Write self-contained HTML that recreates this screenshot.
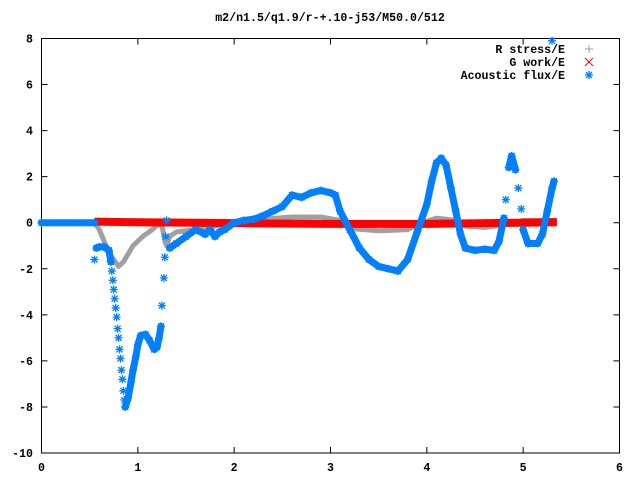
<!DOCTYPE html>
<html><head><meta charset="utf-8"><style>
body{margin:0;background:#fff}
svg text{font-family:"Liberation Mono",monospace;font-weight:bold;font-size:11.6px}
</style></head><body>
<svg id="chart" width="640" height="480" xmlns="http://www.w3.org/2000/svg">
<rect width="640" height="480" fill="#fff"/>
<text x="330" y="21" text-anchor="middle">m2/n1.5/q1.9/r-+.10-j53/M50.0/512</text>
<g id="axes"></g>
<g id="series"></g>
<g id="legend"></g>
</svg>
<script>
const xTicks=[0,1,2,3,4,5,6];
const yTicks=[8,6,4,2,0,-2,-4,-6,-8,-10];
const stressX=[0,0.55,0.6,0.7,0.8,0.85,0.95,1.05,1.15,1.2,1.25,1.28,1.3,1.33,1.4,1.6,1.8,2.0,2.3,2.6,2.9,3.1,3.2,3.5,3.8,3.95,4.1,4.3,4.4,4.6,4.8,5.0,5.3,5.35];
const stressY=[0,0,-0.3,-1.3,-1.9,-1.7,-1.0,-0.6,-0.3,-0.1,-0.1,-0.8,-1.0,-0.6,-0.4,-0.3,-0.15,0,0.15,0.25,0.25,0.1,-0.25,-0.35,-0.3,0,0.2,0.1,-0.15,-0.2,-0.1,0.1,0.1,0.1];
const workX=[0.55,1.0,2.0,3.0,4.0,5.0,5.35];
const workY=[0.05,0.02,-0.02,-0.05,-0.05,0,0.02];
const fluxX=[0,0.55,0.57,0.6,0.65,0.7,0.72,0.73,0.74,0.75,0.76,0.77,0.78,0.79,0.8,0.81,0.82,0.83,0.84,0.85,0.86,0.87,0.9,0.93,0.95,0.98,1.0,1.03,1.08,1.12,1.17,1.2,1.22,1.24,1.25,1.27,1.28,1.29,1.3,1.33,1.4,1.5,1.6,1.7,1.75,1.8,1.85,1.9,2.0,2.1,2.2,2.3,2.4,2.5,2.6,2.7,2.8,2.9,3.0,3.05,3.1,3.2,3.3,3.4,3.5,3.6,3.7,3.8,3.9,4.0,4.05,4.1,4.15,4.2,4.25,4.3,4.35,4.4,4.5,4.6,4.7,4.75,4.8,4.82,4.85,4.88,4.92,4.95,4.98,5.0,5.05,5.15,5.2,5.25,5.3,5.32];
const fluxY=[0,0,-1.1,-1.05,-1.05,-1.2,-1.7,-2.1,-2.5,-2.9,-3.3,-3.7,-4.1,-4.6,-5.0,-5.5,-5.9,-6.4,-6.8,-7.3,-7.7,-8.0,-7.6,-6.9,-6.4,-5.8,-5.3,-4.9,-4.85,-5.1,-5.5,-5.4,-5.0,-4.5,-3.6,-2.4,-1.5,-0.6,0.1,-1.1,-0.9,-0.6,-0.3,-0.5,-0.3,-0.6,-0.4,-0.3,0.0,0.1,0.15,0.3,0.5,0.7,1.2,1.1,1.3,1.4,1.3,1.2,0.5,-0.3,-1.1,-1.6,-1.9,-2.0,-2.1,-1.6,-0.4,0.8,1.8,2.6,2.8,2.5,1.5,0.5,-0.5,-1.1,-1.2,-1.15,-1.2,-0.8,0.2,1.0,2.4,2.9,2.3,1.5,0.6,-0.3,-0.9,-0.9,-0.5,0.5,1.5,1.8];
const fluxOutlierX=[0.55,5.3];
const fluxOutlierY=[-1.6,7.9];
const L=41.5,R=619.5,T=38.5,B=453;
const sx=v=>L+(v-0)/(6-0)*(R-L);
const sy=v=>B-(v-(-10))/(8-(-10))*(B-T);
const NS="http://www.w3.org/2000/svg";
function mk(tag,attrs,parent){const e=document.createElementNS(NS,tag);for(const k in attrs)e.setAttribute(k,attrs[k]);parent.appendChild(e);return e;}
const axes=document.getElementById('axes');
const fr=mk('rect',{x:L,y:T,width:R-L,height:B-T,fill:'none',stroke:'#000','stroke-width':1},axes);


xTicks.forEach(t=>{
 const x=sx(t);
 const a=mk('path',{d:`M${x},${B}v-6M${x},${T}v6`,stroke:'#000'},axes);
 
 
 const tx=mk('text',{x:x,y:471,'text-anchor':'middle'},axes);tx.textContent=t;
 
 
});
yTicks.forEach(t=>{
 const y=sy(t);
 const a=mk('path',{d:`M${L},${y}h6M${R},${y}h-6`,stroke:'#000'},axes);
 
 
 const tx=mk('text',{x:33,y:y+4,'text-anchor':'end'},axes);tx.textContent=t;
 
 
});
const ser=document.getElementById('series');
function line(xs,ys,color,w,name,cap){
 const p=mk('polyline',{points:xs.map((x,i)=>sx(x)+','+sy(ys[i])).join(' '),fill:'none',stroke:color,'stroke-width':w,'stroke-linejoin':'round','stroke-linecap':cap},ser);
 
 
}
function star(x,y,c,parent){
 return mk('path',{d:`M${x-4},${y}h8M${x},${y-4}v8M${x-3},${y-3}l6,6M${x-3},${y+3}l6,-6`,stroke:c,'stroke-width':1.3},parent);
}
line(stressX,stressY,'#a0a0a0',5,'r-stress-series','butt');
line(workX,workY,'#ff0000',8,'g-work-series','butt');
// blue: connect only dense (shallow) segments; steep sparse segments show isolated stars
let d='';
for(let i=1;i<fluxX.length;i++){
 const x0=sx(fluxX[i-1]),y0=sy(fluxY[i-1]),x1=sx(fluxX[i]),y1=sy(fluxY[i]);
 if(Math.abs(y1-y0)<=5*Math.abs(x1-x0)+2) d+=`M${x0},${y0}L${x1},${y1}`;
}
const fl=mk('path',{d:d,fill:'none',stroke:'#0080ff','stroke-width':7,'stroke-linecap':'round','stroke-linejoin':'round'},ser);


fluxX.forEach((x,i)=>{
 const s=star(sx(x),sy(fluxY[i]),'#0080ff',ser);
 
 
});
fluxOutlierX.forEach((x,i)=>{
 const s=star(sx(x),sy(fluxOutlierY[i]),'#0080ff',ser);
 
 
});
const lg=document.getElementById('legend');
const entries=[['R stress/E','#a0a0a0','plus'],['G work/E','#ff0000','x'],['Acoustic flux/E','#0080ff','star']];
entries.forEach((e,i)=>{
 const y=49+i*13;
 const g=mk('g',{},lg);
 
 
 const t=mk('text',{x:565,y:y+4,'text-anchor':'end'},g);t.textContent=e[0];
 const mx=589;
 if(e[2]==='plus')mk('path',{d:`M${mx-4},${y}h8M${mx},${y-4}v8`,stroke:e[1]},g);
 else if(e[2]==='x')mk('path',{d:`M${mx-4},${y-4}l8,8M${mx-4},${y+4}l8,-8`,stroke:e[1]},g);
 else star(mx,y,e[1],g);
});
</script>
</body></html>
